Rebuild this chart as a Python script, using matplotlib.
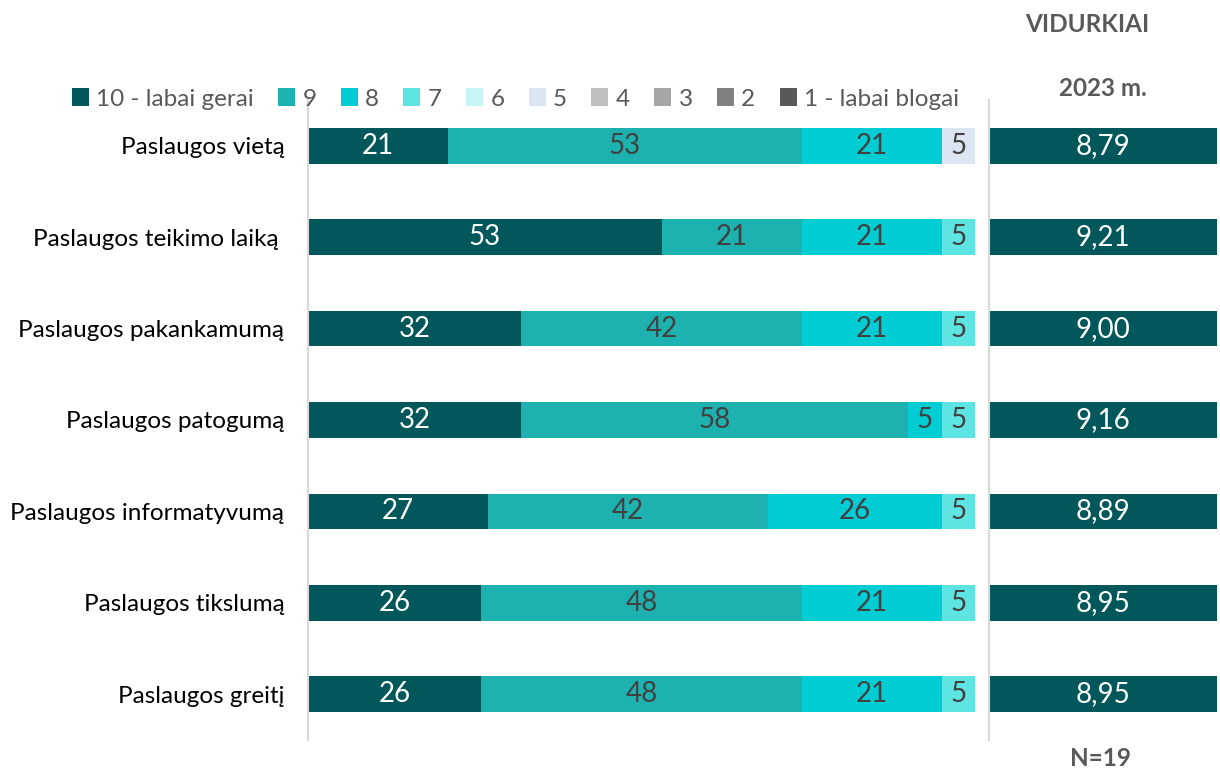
import matplotlib.pyplot as plt
import numpy as np

plt.rcParams['font.family'] = ['Lato', 'DejaVu Sans']

# Duomenys
kategorijos = ['Paslaugos vietą', 'Paslaugos teikimo laiką ', 'Paslaugos pakankamumą',
               'Paslaugos patogumą', 'Paslaugos informatyvumą', 'Paslaugos tikslumą',
               'Paslaugos greitį']
serijos = ['10 - labai gerai', '9', '8', '7', '6', '5', '4', '3', '2', '1 - labai blogai']
reiksmes = {
    '10 - labai gerai': [21, 53, 32, 32, 27, 26, 26],
    '9': [53, 21, 42, 58, 42, 48, 48],
    '8': [21, 21, 21, 5, 26, 21, 21],
    '7': [0, 5, 5, 5, 5, 5, 5],
    '6': [0, 0, 0, 0, 0, 0, 0],
    '5': [5, 0, 0, 0, 0, 0, 0],
    '4': [0, 0, 0, 0, 0, 0, 0],
    '3': [0, 0, 0, 0, 0, 0, 0],
    '2': [0, 0, 0, 0, 0, 0, 0],
    '1 - labai blogai': [0, 0, 0, 0, 0, 0, 0],
}
vidurkiai = [8.79, 9.21, 9.00, 9.16, 8.89, 8.95, 8.95]

spalvos = ['#02575B', '#1DB2AF', '#00CDD3', '#5EE5E3', '#C7F4F4',
           '#DCE6F2', '#BFBFBF', '#A6A6A6', '#808080', '#595959']
teksto_spalvos = ['white'] + ['#404040'] * 9

fig = plt.figure(figsize=(12.2, 7.7), dpi=100)
ax = fig.add_axes([308 / 1220, 30 / 770, 667 / 1220, 640 / 770])
ax2 = fig.add_axes([989 / 1220, 30 / 770, 228 / 1220, 640 / 770])

y = np.arange(len(kategorijos))
kaire = np.zeros(len(kategorijos))
for s, sp, ts in zip(serijos, spalvos, teksto_spalvos):
    v = np.array(reiksmes[s], dtype=float)
    bars = ax.barh(y, v, left=kaire, height=0.39, color=sp, label=s)
    for b, val in zip(bars, v):
        if val > 0:
            ax.text(b.get_x() + b.get_width() / 2, b.get_y() + b.get_height() / 2, f'{val:.0f}',
                    ha='center', va='center', fontsize=20, color=ts)
    kaire += v

ax.set_xlim(0, 100)
ax.set_ylim(6.5, -0.5)
ax.set_yticks(y)
ax.set_yticklabels(kategorijos, fontsize=17.5)
ax.tick_params(axis='y', length=0, pad=17)
ax.set_xticks([])
for k in ['top', 'right', 'bottom']:
    ax.spines[k].set_visible(False)
ax.spines['left'].set_color('#D9D9D9')
ax.spines['left'].set_linewidth(1.5)

# Vidurkiai
bars2 = ax2.barh(y, [1] * len(vidurkiai), height=0.39, color=spalvos[0])
for b, val in zip(bars2, vidurkiai):
    ax2.text(0.5, b.get_y() + b.get_height() / 2, f'{val:.2f}'.replace('.', ','),
             ha='center', va='center', fontsize=20, color='white')
ax2.set_xlim(0, 1)
ax2.set_ylim(6.5, -0.5)
ax2.set_xticks([])
ax2.set_yticks([])
for k in ['top', 'right', 'bottom']:
    ax2.spines[k].set_visible(False)
ax2.spines['left'].set_color('#D9D9D9')
ax2.spines['left'].set_linewidth(1.5)

fig.text(1087 / 1220, 1 - 25 / 770, 'VIDURKIAI', ha='center', va='center',
         fontsize=17.5, fontweight='bold', color='#595959')
fig.text(1103 / 1220, 1 - 88 / 770, '2023 m.', ha='center', va='center',
         fontsize=17.5, fontweight='bold', color='#595959')
fig.text(1100 / 1220, 1 - 758 / 770, 'N=19', ha='center', va='center',
         fontsize=17.5, fontweight='bold', color='#595959')

fig.legend(loc='center left', bbox_to_anchor=(50 / 1220, 1 - 99 / 770), ncol=10,
           frameon=False, fontsize=17.5, handlelength=0.7, handleheight=0.7,
           handletextpad=0.3, columnspacing=1.0, labelcolor='#595959')

fig.savefig('out.png', dpi=100)
